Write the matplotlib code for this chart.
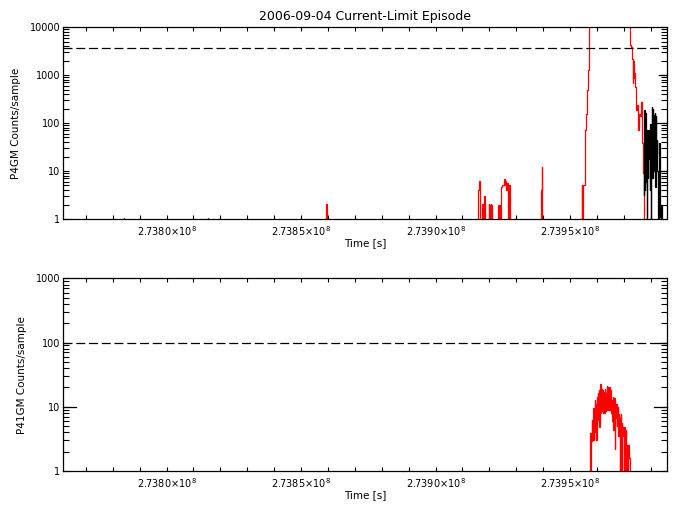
import numpy as np
import matplotlib
matplotlib.use('Agg')
import matplotlib.pyplot as plt
from matplotlib.ticker import MultipleLocator, LogLocator, NullFormatter, FuncFormatter

# time reference, all times below are offsets from it [s]
t0 = 2.7395e8

# P4GM red trace (sparse spikes + the main episode)
p4gm_dt = [-166100, -165800, -165500,
           -134900, -134574, -134250,
           -90800, -90447, -90100,
           -34550, -34201, -33829, -33450,
           -33050, -32714, -32342, -31970, -31600,
           -30450, -30112, -29926, -29740, -29554, -29368, -29108, -28800,
           -27000, -26654, -26338, -26022, -25700,
           -25391, -25019, -24796, -24424, -24164, -23792, -23532, -23160,
           -22900, -22677, -22305, -22000,
           -11100, -10781, -10409, -10100,
           4150, 4461, 4721, 4943, 5205, 5576, 5836, 6059, 6431, 6803, 7175,
           22100, 22417, 22789, 23160, 23420, 23532, 23792, 24052, 24424,
           24907, 25100, 25279, 25651, 26022, 26506, 26692, 26878,
           27250, 27450]
p4gm_counts = [0, 1.05, 0,
               0, 1.05, 0,
               0, 2.05, 0,
               0, 4.0, 6.3, 0,
               0, 2.1, 0, 3.0, 0,
               0, 2.1, 0, 2.0, 0, 2.1, 1.95, 0,
               0, 2.0, 0, 2.0, 0,
               4.7, 5.0, 5.1, 6.9, 5.1, 6.3, 4.0, 5.5,
               0, 5.0, 2.0, 0,
               0, 4.0, 12.3, 0,
               0, 5.1, 0, 5.0, 5.1, 23, 72, 151, 487, 1264, 30000,
               30000, 4200, 3900, 2200, 670, 2000, 850, 1080, 570,
               186, 237, 72, 158, 140, 278, 52, 38,
               8.9, 0]

# P4GM black trace at the end of the episode
p4gm_blk_start = 27324
p4gm_blk_step = 186
p4gm_blk_counts = [9.7, 3.2, 186, 4, 160, 6, 72, 0, 61, 7, 72, 18, 52, 4, 95, 0,
                   75, 220, 7, 200, 10, 150, 23, 160, 4.6, 140, 23, 45, 10, 0,
                   0, 10, 38, 12, 1.1, 0, 2, 0, 0]

# P41GM red trace
p41gm_start = 7435
p41gm_step = 186
p41gm_counts = [3.9, 0, 3.9, 2.9, 6.2, 3.0, 5.2, 9.4, 3.0, 7.6,
                12.7, 4.1, 11, 3.0, 14.3, 6.2, 16.5, 6.2, 18.2, 4.9,
                15, 23, 8, 19, 8.5, 18, 8, 16.5, 17, 8,
                19, 8.5, 16.5, 10, 21, 9, 20, 9, 19, 20,
                9, 18, 16.5, 8, 12.7, 6, 14.3, 4.4, 11, 13.5,
                2.2, 9.4, 6.8, 11, 5, 8.3, 10, 3.5, 7.6, 6.7,
                0, 6.2, 7.6, 0, 5.5, 4.9, 3.5, 4.2, 0, 4.9,
                3.8, 0, 4.4, 2.5, 0, 2.1, 0, 2.5, 2.2, 1.6,
                0]

p4gm_limit = 3600
p41gm_limit = 100
xlim = (2.737615e8, 2.739860e8)

plt.rcParams['font.family'] = 'DejaVu Sans'

fig = plt.figure(figsize=(6.77, 5.11), dpi=100)
ax1 = fig.add_axes([0.093, 0.5714, 0.892, 0.3756])
ax2 = fig.add_axes([0.093, 0.0783, 0.892, 0.3771])


def xfmt(v, pos):
    return f'{v / 1e8:.4f}×10$^8$'


def style(ax, ylim, ylabel):
    ax.set_yscale('log', nonpositive='clip')
    ax.set_xlim(*xlim)
    ax.set_ylim(*ylim)
    ax.xaxis.set_major_locator(MultipleLocator(50000))
    ax.xaxis.set_minor_locator(MultipleLocator(10000))
    ax.xaxis.set_major_formatter(FuncFormatter(xfmt))
    ax.yaxis.set_major_locator(LogLocator(base=10))
    ax.yaxis.set_minor_locator(LogLocator(base=10, subs=range(2, 10)))
    ax.yaxis.set_minor_formatter(NullFormatter())
    ax.yaxis.set_major_formatter(FuncFormatter(lambda v, p: f'{v:g}'))
    ax.tick_params(axis='both', which='both', direction='in', top=True, right=True,
                   labelsize=7, width=0.8, color='black')
    ax.tick_params(axis='x', which='both', length=3, pad=4)
    ax.tick_params(axis='y', which='both', length=4.5, pad=2)
    for s in ax.spines.values():
        s.set_linewidth(0.9)
    ax.set_xlabel('Time [s]', fontsize=7.5, labelpad=0)
    ax.set_ylabel(ylabel, fontsize=7.5, labelpad=6)


t_red = t0 + np.array(p4gm_dt, dtype=float)
ax1.plot(t_red, p4gm_counts, color='red', lw=0.9, drawstyle='steps-mid')
t_blk = t0 + p4gm_blk_start + p4gm_blk_step * np.arange(len(p4gm_blk_counts))
ax1.plot(t_blk, p4gm_blk_counts, color='black', lw=0.9, drawstyle='steps-mid')
ax1.axhline(p4gm_limit, color='black', lw=0.9, dashes=(7.2, 3.0))
style(ax1, (1, 10000), 'P4GM Counts/sample')
ax1.set_title('2006-09-04 Current-Limit Episode', fontsize=9, pad=5)

t_41 = t0 + p41gm_start + p41gm_step * np.arange(len(p41gm_counts))
ax2.plot(t_41, p41gm_counts, color='red', lw=0.9, drawstyle='steps-mid')
ax2.axhline(p41gm_limit, color='black', lw=0.9, dashes=(7.2, 3.0))
style(ax2, (1, 1000), 'P41GM Counts/sample')

# the longer ticks left by overplotted axes in the original
for ax, side, y, frac in [(ax1, 1, 1000, 0.013), (ax1, 1, 100, 0.02), (ax1, 1, 10, 0.022),
                          (ax2, 1, 100, 0.013), (ax2, 1, 10, 0.022), (ax2, 0, 10, 0.022)]:
    xs = [1 - frac, 1] if side else [0, frac]
    ax.plot(xs, [y, y], color='black', lw=0.9, transform=ax.get_yaxis_transform(),
            clip_on=False)

fig.savefig('out.png', dpi=100)
